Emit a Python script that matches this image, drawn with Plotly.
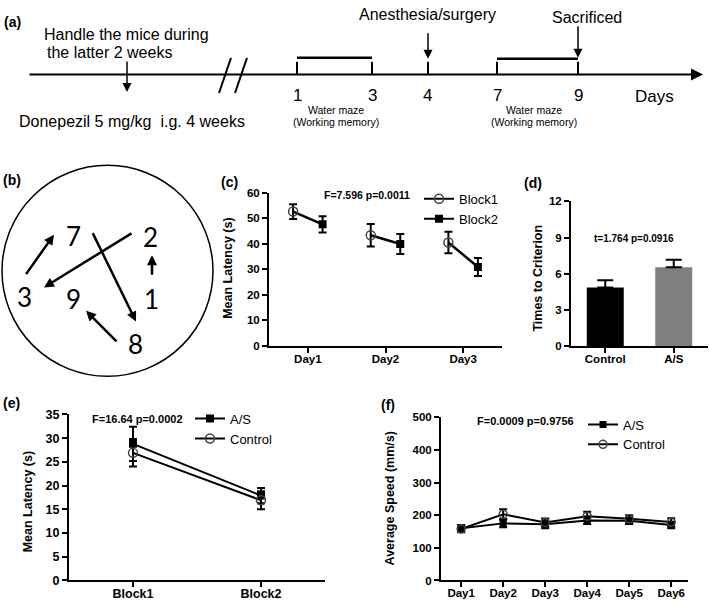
import plotly.graph_objects as go

W, H = 709, 608
def X(px): return px / W
def Y(py): return 1 - py / H

FONT = "Liberation Sans"

# ---------------- data ----------------
# (c) working memory, latency by block
days_c = ["Day1", "Day2", "Day3"]
block1_mean = [52.6, 43.3, 40.5]
block1_sem = [2.9, 4.4, 4.2]
block2_mean = [47.6, 39.9, 30.9]
block2_sem = [3.2, 3.9, 3.5]

# (d) times to criterion
groups_d = ["Control", "A/S"]
times_mean = [4.86, 6.53]
times_sem = [0.6, 0.62]

# (e) latency by block, groups
blocks_e = ["Block1", "Block2"]
as_latency = [28.8, 17.9]
as_latency_sem = [3.6, 1.6]
ctrl_latency = [26.9, 16.9]
ctrl_latency_sem = [2.9, 1.9]

# (f) average speed
days_f = ["Day1", "Day2", "Day3", "Day4", "Day5", "Day6"]
as_speed = [160, 175, 172, 184, 183, 170]
as_speed_sem = [10, 12, 12, 11, 10, 10]
ctrl_speed = [158, 203, 178, 197, 189, 179]
ctrl_speed_sem = [10, 15, 12, 14, 11, 12]

# stats texts
stat_c = "F=7.596 p=0.0011"
stat_d = "t=1.764 p=0.0916"
stat_e = "F=16.64 p=0.0002"
stat_f = "F=0.0009 p=0.9756"

# timeline labels (a)
timeline_days = ["1", "3", "4", "7", "9"]

fig = go.Figure()

# ---------------- (c) ----------------
off = 0.19
xb1, yb1, eb1, xb2, yb2, eb2, xc, yc = [], [], [], [], [], [], [], []
for i, d in enumerate(days_c):
    pos = i + 1
    if i > 0:
        xb1.append(None); yb1.append(None); eb1.append(0)
        xb2.append(None); yb2.append(None); eb2.append(0)
    xb1.append(pos - off); yb1.append(block1_mean[i]); eb1.append(block1_sem[i])
    xb2.append(pos + off); yb2.append(block2_mean[i]); eb2.append(block2_sem[i])
    xc += [pos - off, pos + off, None]
    yc += [block1_mean[i], block2_mean[i], None]

fig.add_trace(go.Scatter(x=xc, y=yc, mode="lines", line=dict(color="black", width=2.5),
                         showlegend=False, xaxis="x", yaxis="y", hoverinfo="skip"))
errc = dict(type="data", thickness=2, width=4, color="black")
fig.add_trace(go.Scatter(x=xb1, y=yb1, mode="lines+markers", name="Block1",
                         line=dict(color="black", width=2), connectgaps=False,
                         marker=dict(symbol="circle-open", size=9, color="#444", line=dict(width=1.5)),
                         error_y=dict(array=eb1, **errc), xaxis="x", yaxis="y",
                         legend="legend", legendgroup="b1"))
fig.add_trace(go.Scatter(x=xb2, y=yb2, mode="lines+markers", name="Block2",
                         line=dict(color="black", width=2), connectgaps=False,
                         marker=dict(symbol="square", size=8, color="black"),
                         error_y=dict(array=eb2, **errc), xaxis="x", yaxis="y",
                         legend="legend", legendgroup="b2"))

# ---------------- (d) ----------------
fig.add_trace(go.Bar(x=groups_d, y=times_mean, marker=dict(color=["#000000", "#7f7f7f"], line=dict(width=0)),
                     error_y=dict(type="data", array=times_sem, arrayminus=[0, 0], symmetric=False,
                                  thickness=2, width=8, color="black"),
                     showlegend=False, xaxis="x2", yaxis="y2"))

# ---------------- (e) ----------------
erre = dict(type="data", thickness=2, width=4, color="black")
fig.add_trace(go.Scatter(x=blocks_e, y=as_latency, mode="lines+markers", name="A/S",
                         line=dict(color="black", width=2),
                         marker=dict(symbol="square", size=8, color="black"),
                         error_y=dict(array=as_latency_sem, **erre), xaxis="x3", yaxis="y3",
                         legend="legend2", legendgroup="e1"))
fig.add_trace(go.Scatter(x=blocks_e, y=ctrl_latency, mode="lines+markers", name="Control",
                         line=dict(color="black", width=2),
                         marker=dict(symbol="circle-open", size=9, color="#444", line=dict(width=1.5)),
                         error_y=dict(array=ctrl_latency_sem, **erre), xaxis="x3", yaxis="y3",
                         legend="legend2", legendgroup="e2"))

# ---------------- (f) ----------------
fig.add_trace(go.Scatter(x=days_f, y=as_speed, mode="lines+markers", name="A/S",
                         line=dict(color="black", width=2),
                         marker=dict(symbol="square", size=7, color="black"),
                         error_y=dict(array=as_speed_sem, type="data", thickness=2, width=4, color="black"),
                         xaxis="x4", yaxis="y4", legend="legend3", legendgroup="f1"))
fig.add_trace(go.Scatter(x=days_f, y=ctrl_speed, mode="lines+markers", name="Control",
                         line=dict(color="black", width=2),
                         marker=dict(symbol="circle-open", size=8, color="#444", line=dict(width=1.5)),
                         error_y=dict(array=ctrl_speed_sem, type="data", thickness=2, width=4, color="black"),
                         xaxis="x4", yaxis="y4", legend="legend3", legendgroup="f2"))

# ---------------- axes ----------------
def ax(**kw):
    d = dict(showline=True, linecolor="black", linewidth=2, ticks="outside", ticklen=5,
             tickwidth=2, tickcolor="black", showgrid=False, zeroline=False, fixedrange=True,
             tickfont=dict(family=FONT, size=11.5, color="black", weight="bold"))
    d.update(kw)
    return d

XSO = -4  # pull x tick labels closer to the axis
fig.update_layout(
    xaxis=ax(domain=[X(269), X(502)], anchor="y", range=[0.5, 3.5],
             tickvals=[1, 2, 3], ticktext=days_c, ticklabelstandoff=XSO),
    yaxis=ax(domain=[Y(347), Y(190)], anchor="x", range=[0, 60], tickvals=[0, 10, 20, 30, 40, 50, 60]),
    xaxis2=ax(domain=[X(571), X(708)], anchor="y2", type="category", range=[-0.5, 1.5],
              ticklabelstandoff=XSO),
    yaxis2=ax(domain=[Y(347), Y(199)], anchor="x2", range=[0, 12], tickvals=[0, 3, 6, 9, 12]),
    xaxis3=ax(domain=[X(69), X(325)], anchor="y3", type="category", range=[-0.5, 1.5],
              ticklabelstandoff=XSO,
              tickfont=dict(family=FONT, size=12.5, color="black", weight="bold")),
    yaxis3=ax(domain=[Y(587), Y(417)], anchor="x3", range=[0, 35], tickvals=list(range(0, 36, 5)),
              tickfont=dict(family=FONT, size=12.5, color="black", weight="bold")),
    xaxis4=ax(domain=[X(441), X(688)], anchor="y4", type="category", range=[-0.48, 5.4],
              ticklabelstandoff=XSO),
    yaxis4=ax(domain=[Y(587), Y(420)], anchor="x4", range=[0, 500], tickvals=[0, 100, 200, 300, 400, 500]),
    bargap=0.46,
)

leg = dict(xanchor="left", yanchor="top", bgcolor="rgba(0,0,0,0)", borderwidth=0,
           font=dict(family=FONT, size=13, color="black"), itemwidth=30, traceorder="normal")
fig.update_layout(
    legend=dict(x=X(419), y=Y(181), tracegroupgap=2, **leg),
    legend2=dict(x=X(190), y=Y(406), tracegroupgap=8, **leg),
    legend3=dict(x=X(583), y=Y(412), tracegroupgap=4, **leg),
)

annotations = []
def text(t, px, py, size, bold=False, xanchor="center", family=FONT, angle=0):
    annotations.append(dict(text=t, x=X(px), y=Y(py), xref="paper", yref="paper",
                            xanchor=xanchor, yanchor="middle", showarrow=False, textangle=angle,
                            font=dict(family=family, size=size, color="black",
                                      weight="bold" if bold else "normal")))

def arrow(x0, y0, x1, y1, width=2, head=2, size=1.0):
    annotations.append(dict(text="", x=X(x1), y=Y(y1), xref="paper", yref="paper",
                            ax=x0 - x1, ay=y0 - y1, showarrow=True, arrowhead=head,
                            arrowsize=size, arrowwidth=width, arrowcolor="black"))

# panel labels
for lab, px, py in [("(a)", 12, 15), ("(b)", 12, 177), ("(c)", 229, 179), ("(d)", 533, 180),
                    ("(e)", 11, 405), ("(f)", 388, 407)]:
    text(lab, px, py, 14, bold=True)

# stats
text(stat_c, 367, 192, 10.5, bold=True)
text(stat_d, 634, 237, 10, bold=True)
text(stat_e, 137, 422, 11, bold=True)
text(stat_f, 525, 424, 11, bold=True)

# y-axis titles
text("Mean Latency (s)", 228, 268, 12.5, bold=True, angle=-90)
text("Times to Criterion", 538, 278, 12.5, bold=True, angle=-90)
text("Mean Latency (s)", 28, 507, 12.5, bold=True, angle=-90)
text("Average Speed (mm/s)", 390, 503, 12.5, bold=True, angle=-90)

# ---------------- (a) timeline ----------------
shapes = []
def seg(x0, y0, x1, y1, w=2):
    shapes.append(dict(type="line", xref="paper", yref="paper", x0=X(x0), y0=Y(y0),
                       x1=X(x1), y1=Y(y1), line=dict(color="black", width=w)))

arrow(28, 69, 703, 69, width=2, head=2, size=1.2)
seg(219, 88, 231, 52, 2)
seg(235, 88, 247, 52, 2)
day_x = [297, 372, 428, 497, 578]
for lab, px in zip(timeline_days, day_x):
    seg(px, 56, px, 69, 2)
    text(lab, px, 91, 17)
text("Days", 633, 92, 17, xanchor="left")
seg(297, 52, 372, 52, 2.5)
seg(497, 53, 578, 53, 2.5)
arrow(428, 26, 428, 53, width=1.5, head=2, size=1.2)
arrow(578, 19, 578, 52, width=1.5, head=2, size=1.2)
arrow(127, 55, 127, 87, width=1.5, head=2, size=1.2)
text("Anesthesia/surgery", 428, 8, 16)
text("Sacrificed", 587, 11, 16)
text("Handle the mice during", 42, 28, 16, xanchor="left")
text("the latter 2 weeks", 45, 47, 16, xanchor="left")
text("Donepezil 5 mg/kg  i.g. 4 weeks", 17, 117, 16, xanchor="left")
for cx in (336, 534):
    text("Water maze", cx, 105, 10.5)
    text("(Working memory)", cx, 118, 10.5)

# ---------------- (b) maze ----------------
shapes.append(dict(type="circle", xref="paper", yref="paper", x0=X(2), x1=X(213),
                   y0=Y(378), y1=Y(162), line=dict(color="black", width=1.5)))
for lab, px, py in [("7", 73, 234), ("2", 150, 235), ("3", 24, 297), ("9", 73, 299),
                    ("1", 151, 299), ("8", 135, 345)]:
    text(lab, px, py, 26, family="Lato")
arrow(25, 274, 54, 233, width=2.5, head=2, size=0.8)
arrow(133, 232, 44, 287, width=2.5, head=2, size=0.8)
arrow(92, 232, 136, 322, width=2.5, head=2, size=0.8)
arrow(152, 275, 152, 254, width=2.5, head=2, size=0.8)
arrow(118, 343, 86, 311, width=2.5, head=2, size=0.8)

fig.update_layout(
    width=W, height=H, autosize=False,
    margin=dict(l=0, r=0, t=0, b=0),
    paper_bgcolor="white", plot_bgcolor="white",
    font=dict(family=FONT, color="black"),
    annotations=annotations, shapes=shapes,
)

fig.write_html("out.html", config={"displayModeBar": False},
               post_script="document.body.style.margin='0';document.body.style.overflow='hidden';")
